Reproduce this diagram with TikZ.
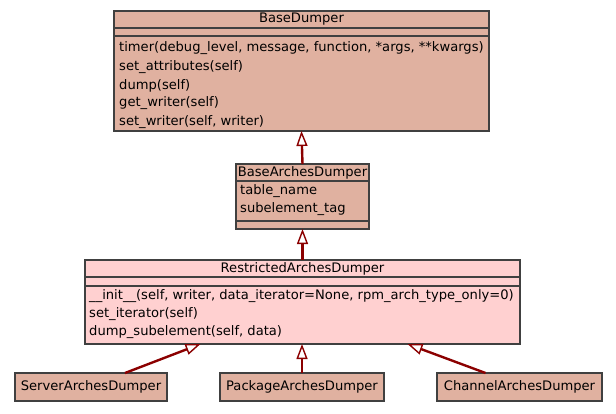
\documentclass[tikz,border=0pt]{standalone}
\usepackage{fontspec}
\setmainfont{DejaVu Sans}
\usetikzlibrary{arrows.meta,calc}
\definecolor{clsfill}{HTML}{E0B1A0}
\definecolor{focfill}{HTML}{FFD0D0}
\definecolor{clsline}{HTML}{404040}
\definecolor{inhline}{HTML}{8B0000}
\newcommand{\umlfont}{\fontsize{13.1}{14}\selectfont}
\tikzset{
  box/.style={draw=clsline, line width=1.3pt, inner sep=0pt, outer sep=0pt, anchor=north west},
  sep/.style={draw=clsline, line width=1.3pt},
  ttl/.style={font=\umlfont, anchor=center, inner sep=0pt},
  row/.style={font=\umlfont, anchor=west, inner sep=0pt},
  inh/.style={draw=inhline, line width=2.4pt,
    -{Triangle[open, length=15pt, width=11pt, line width=1.4pt, fill=white]}},
}
\begin{document}
\begin{tikzpicture}[x=1pt, y=-1pt]
\useasboundingbox (0,0) rectangle (616,413);

% BaseDumper
\node[box, fill=clsfill, minimum width=375pt, minimum height=120pt] (base) at (114,11) {};
\draw[sep] (114,28) -- (489,28) (114,36) -- (489,36);
\node[ttl] at (301.5,19.5) {BaseDumper};
\node[row] at (119,48.5) {timer(debug\_level, message, function, *args, **kwargs)};
\node[row] at (119,67) {set\_attributes(self)};
\node[row] at (119,85.5) {dump(self)};
\node[row] at (119,103.5) {get\_writer(self)};
\node[row] at (119,122) {set\_writer(self, writer)};

% BaseArchesDumper
\node[box, fill=clsfill, minimum width=133pt, minimum height=65pt] (bad) at (236,164) {};
\draw[sep] (236,181) -- (369,181) (236,221) -- (369,221);
\node[ttl] at (302.5,172.5) {BaseArchesDumper};
\node[row] at (240,191) {table\_name};
\node[row] at (240,209.5) {subelement\_tag};

% RestrictedArchesDumper
\node[box, fill=focfill, minimum width=435pt, minimum height=84pt] (rad) at (85,260) {};
\draw[sep] (85,277) -- (520,277) (85,286) -- (520,286);
\node[ttl] at (302.5,268.5) {RestrictedArchesDumper};
\node[row] at (89,296) {\_\_init\_\_(self, writer, data\_iterator=None, rpm\_arch\_type\_only=0)};
\node[row] at (89,314) {set\_iterator(self)};
\node[row] at (89,332.5) {dump\_subelement(self, data)};

% Leaf classes
\node[box, fill=clsfill, minimum width=152pt, minimum height=28pt, font=\umlfont] (srv) at (15,373) {ServerArchesDumper};
\node[box, fill=clsfill, minimum width=164pt, minimum height=28pt, font=\umlfont] (pkg) at (220,373) {PackageArchesDumper};
\node[box, fill=clsfill, minimum width=165pt, minimum height=28pt, font=\umlfont] (chn) at (437,373) {ChannelArchesDumper};

% Inheritance
\draw[inh] (bad.north) -- (base.south);
\draw[inh] (rad.north) -- (bad.south);
\draw[inh] ($(srv.north)+(34,0)$) -- ($(rad.south)+(-102,0)$);
\draw[inh] (pkg.north) -- (pkg.north |- rad.south);
\draw[inh] ($(chn.north)+(-34,0)$) -- ($(rad.south)+(105,0)$);
\end{tikzpicture}
\end{document}
